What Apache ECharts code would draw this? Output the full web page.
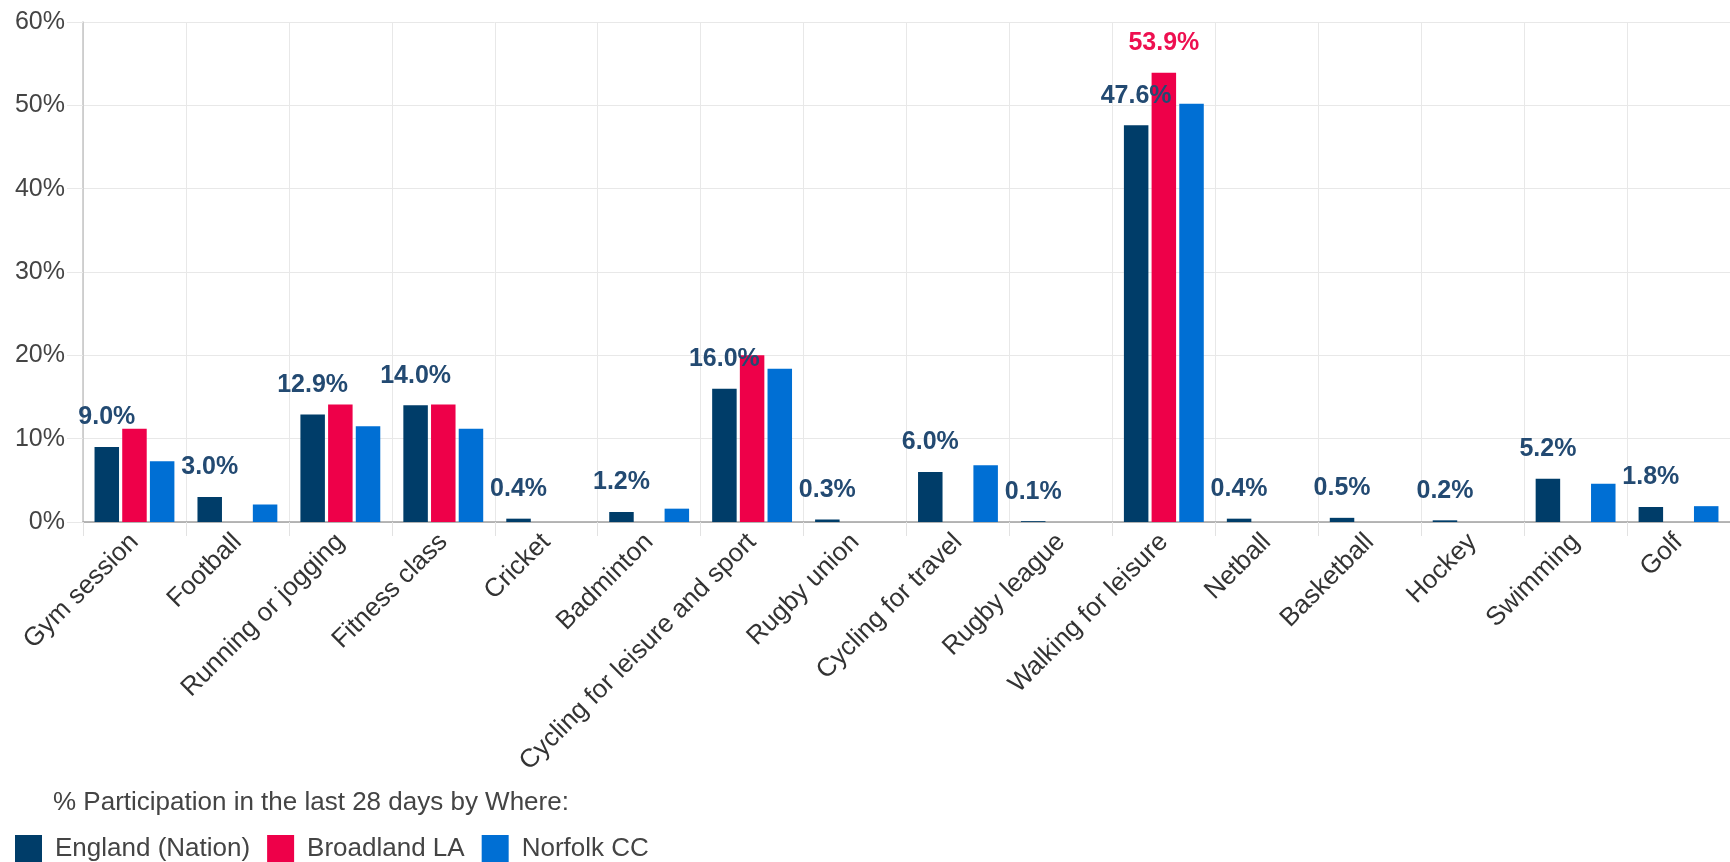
<!DOCTYPE html>
<html>
<head>
<meta charset="utf-8">
<script src="https://cdn.jsdelivr.net/npm/echarts@6/dist/echarts.min.js"></script>
<style>
  html, body { margin: 0; padding: 0; background: #ffffff; }
  #chart { width: 1730px; height: 862px; }
</style>
</head>
<body>
<div id="chart"></div>
<script>
const categories = ['Gym session', 'Football', 'Running or jogging', 'Fitness class', 'Cricket', 'Badminton',
  'Cycling for leisure and sport', 'Rugby union', 'Cycling for travel', 'Rugby league', 'Walking for leisure',
  'Netball', 'Basketball', 'Hockey', 'Swimming', 'Golf'];
const seriesNames = ['England (Nation)', 'Broadland LA', 'Norfolk CC'];
const england   = [9.0, 3.0, 12.9, 14.0, 0.4, 1.2, 16.0, 0.3, 6.0, 0.1, 47.6, 0.4, 0.5, 0.2, 5.2, 1.8];
const broadland = [11.2, null, 14.1, 14.1, null, null, 20.0, null, null, null, 53.9, null, null, null, null, null];
const norfolk   = [7.3, 2.1, 11.5, 11.2, null, 1.6, 18.4, null, 6.8, null, 50.2, null, null, null, 4.6, 1.9];
const broadlandLabelled = ['Walking for leisure'];
const yTicks = [0, 10, 20, 30, 40, 50, 60];
const legendTitle = '% Participation in the last 28 days by Where:';

const colors = ['#003d69', '#ee0049', '#006fd4'];
const fmt = p => p.value.toFixed(1) + '%';
const FONT = 'Liberation Sans, Arial, sans-serif';

const chart = echarts.init(document.getElementById('chart'));
chart.setOption({
  animation: false,
  color: colors,
  textStyle: { fontFamily: FONT },
  title: {
    text: legendTitle,
    left: 53, top: 790, padding: 0,
    textStyle: { fontSize: 26, fontWeight: 'normal', color: '#444', fontFamily: FONT }
  },
  legend: {
    data: seriesNames,
    left: 15, top: 835, padding: 0,
    itemWidth: 27, itemHeight: 27, itemGap: 17,
    icon: 'rect',
    textStyle: { fontSize: 26, color: '#444', fontFamily: FONT, padding: [0, 0, 0, 8] }
  },
  grid: { left: 83, right: -9, top: 22, bottom: 340, containLabel: false },
  xAxis: {
    type: 'category',
    data: categories,
    axisLine: { lineStyle: { color: '#a0a0a0', width: 1.5 } },
    axisTick: { show: true, length: 14, lineStyle: { color: '#e2e2e2' } },
    splitLine: { show: true, lineStyle: { color: '#e8e8e8' } },
    axisLabel: { interval: 0, rotate: 45, fontSize: 26, color: '#333', margin: 16, fontFamily: FONT }
  },
  yAxis: {
    type: 'value',
    min: yTicks[0], max: yTicks[yTicks.length - 1], interval: yTicks[1] - yTicks[0],
    axisLine: { show: true, lineStyle: { color: '#c4c4c4', width: 1.5 } },
    axisTick: { show: true, length: 16, lineStyle: { color: '#e8e8e8' } },
    splitLine: { show: true, lineStyle: { color: '#e8e8e8' } },
    axisLabel: { formatter: '{value}%', fontSize: 25, color: '#444', margin: 18, fontFamily: FONT }
  },
  series: [
    {
      name: seriesNames[0], type: 'bar', data: england,
      barWidth: 24.5, barGap: '13%',
      label: { show: true, position: 'top', distance: 17, formatter: fmt,
        fontSize: 25, fontWeight: 'bold', color: '#234a72', fontFamily: FONT }
    },
    {
      name: seriesNames[1], type: 'bar',
      data: broadland.map((v, i) => broadlandLabelled.includes(categories[i])
        ? { value: v, label: { show: true } } : v),
      barWidth: 24.5, barGap: '13%',
      label: { show: false, position: 'top', distance: 17, formatter: fmt,
        fontSize: 25, fontWeight: 'bold', color: '#ee1050', fontFamily: FONT }
    },
    {
      name: seriesNames[2], type: 'bar', data: norfolk,
      barWidth: 24.5, barGap: '13%'
    }
  ]
});
</script>
</body>
</html>
